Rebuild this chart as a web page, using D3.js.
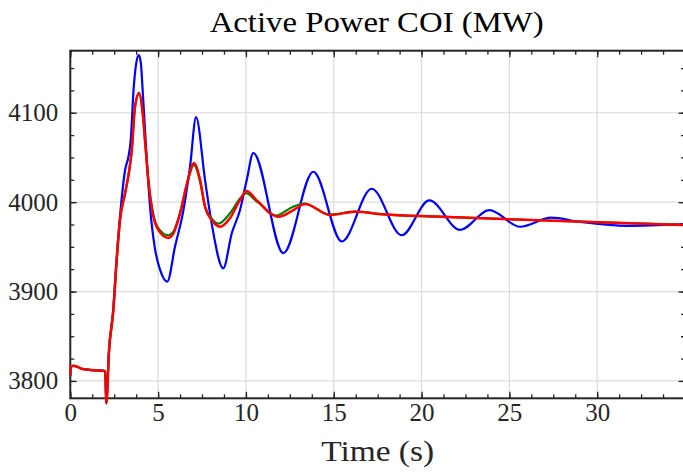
<!DOCTYPE html>
<html><head><meta charset="utf-8">
<script src="https://cdn.jsdelivr.net/npm/d3@7"></script>
<style>body{margin:0;background:#fff}svg{display:block}</style>
</head><body>
<svg id="c" width="683" height="472"></svg>
<script>
// ---- data ----
const xTicks = [0, 5, 10, 15, 20, 25, 30];
const yTicks = [3800, 3900, 4000, 4100];
const titleText = "Active Power COI (MW)";
const xLabelText = "Time (s)";

const blueT = [0,0.03,0.2,0.67,1.24,1.99,2.05,2.2,2.45,2.6,2.83,3.12,3.3,3.44,3.6,3.75,3.9,4.02,4.12,4.29,4.54,4.82,5.1,5.52,5.96,6.44,6.82,7.16,7.67,8.05,8.71,9.19,9.66,10.05,10.42,12.13,13.84,15.46,17.16,18.87,20.44,22.19,23.86,25.61,27.37,29.02,31.69,35];
const blueV = [3806,3816,3817,3813.5,3812.2,3811,3775,3834,3881,3926,3984,4036,4050,4069,4125,4155,4164.5,4155,4125,4069,3995,3948,3925,3911,3950,3991,4040,4095,4025,3976,3926,3965,3991,4025,4055,3943,4034,3956,4015,3963,4002,3969,3991,3972.5,3982.6,3978,3973.5,3975.5];

const redT = [0,0.03,0.2,0.67,1.24,1.99,2.05,2.2,2.45,2.64,2.83,3.12,3.36,3.5,3.68,3.91,4.12,4.25,4.44,4.73,5.01,5.58,5.87,6.25,6.63,7.04,7.39,7.67,8.05,8.52,9.09,9.66,10.04,10.6,10.8,11.37,11.85,12.7,13.37,14.79,16.22,17.82,21.05,27.5,35];
const redV = [3806,3816,3817,3813.5,3812.2,3811,3775,3832,3879,3935,3980,4010,4036,4058,4106,4122,4100,4070,4025,3984,3969,3960,3965,3987.5,4020,4043.4,4024.7,3995,3980,3972.5,3982,4002.3,4012.4,4002.3,3998.7,3987.5,3983.7,3991,3997.9,3985.6,3989.3,3986.4,3983.7,3979.2,3974.4];

const greenT = [0,0.03,0.2,0.67,1.24,1.99,2.05,2.2,2.45,2.64,2.83,3.12,3.36,3.5,3.68,3.91,4.12,4.25,4.44,4.73,5.01,5.58,5.87,6.25,6.63,7.04,7.39,7.67,8.0,8.43,9.09,9.66,10.0,10.6,10.8,11.3,11.7,12.6,13.3,14.79,16.22,17.82,21.05,27.5,35];
const greenV = [3806,3816,3817,3813.5,3812.2,3811,3775,3832,3879,3935,3980,4010,4036,4058,4106,4121,4100,4070,4025,3986,3971,3963,3967,3988,4019,4041.5,4023,3995,3983,3976,3987.5,4004,4010,4001,3998,3989,3985,3994,3998.5,3986,3989.3,3986.4,3983.7,3979.2,3974.4];

// ---- layout ----
const L = 70.3, R = 685, T = 50.7, B = 398.3;
const x = d3.scaleLinear().domain([0, 35]).range([L, R]);
const y = d3.scaleLinear().domain([3780.6, 4169.4]).range([B, T]);
const svg = d3.select("#c");
const font = "'Liberation Serif', 'Times New Roman', serif";
const axisColor = "#262626";

const xMinor = d3.range(0, 35.001, 1.25);
const yMinor = d3.range(3800, 4169, 25);

// grid
const grid = svg.append("g");
grid.selectAll("line.gx").data(xTicks).join("line")
  .attr("x1", d => x(d)).attr("x2", d => x(d)).attr("y1", T).attr("y2", B)
  .attr("stroke", "#dbdbdb").attr("stroke-width", 1.2);
grid.selectAll("line.gy").data(yTicks).join("line")
  .attr("y1", d => y(d)).attr("y2", d => y(d)).attr("x1", L).attr("x2", R)
  .attr("stroke", "#dbdbdb").attr("stroke-width", 1.2);

// axes with inward ticks
function styleAxis(g) {
  g.select(".domain").remove();
  g.selectAll("line").attr("stroke", axisColor).attr("stroke-width", 1.3);
  g.selectAll("text").attr("fill", axisColor).style("font-family", font).style("font-size", "25px");
}
function addAxis(axisFn, pos, vals, size, labels, pad) {
  const a = axisFn.tickValues(vals).tickSize(size).tickPadding(pad || 3)
    .tickFormat(labels ? d3.format("d") : "");
  const g = svg.append("g").attr("transform", pos).call(a);
  styleAxis(g);
  return g;
}
addAxis(d3.axisBottom(x), `translate(0,${B})`, xTicks, -6.5, true, 5);
addAxis(d3.axisBottom(x), `translate(0,${B})`, xMinor, -4, false);
addAxis(d3.axisTop(x), `translate(0,${T})`, xTicks, -6.5, false);
addAxis(d3.axisTop(x), `translate(0,${T})`, xMinor, -4, false);
addAxis(d3.axisLeft(y), `translate(${L},0)`, yTicks, -6.5, true, 12);
addAxis(d3.axisLeft(y), `translate(${L},0)`, yMinor, -4, false);
addAxis(d3.axisRight(y), `translate(${R},0)`, yTicks, -6.5, false);
addAxis(d3.axisRight(y), `translate(${R},0)`, yMinor, -4, false);

// box
svg.append("rect").attr("x", L).attr("y", T).attr("width", R - L).attr("height", B - T)
  .attr("fill", "none").attr("stroke", axisColor).attr("stroke-width", 2);

// lines
const line = d3.line().x(d => x(d[0])).y(d => y(d[1])).curve(d3.curveMonotoneX);
const series = [
  {t: blueT, v: blueV, color: "#0000ff", w: 2.2},
  {t: greenT, v: greenV, color: "#008000", w: 2.2},
  {t: redT, v: redV, color: "#ff0000", w: 2.5}
];
series.forEach(s => {
  svg.append("path").datum(s.t.map((t, i) => [t, s.v[i]]))
    .attr("d", line).attr("fill", "none").attr("stroke", s.color)
    .attr("stroke-width", s.w).attr("stroke-linejoin", "round");
});

// title and label
svg.append("text").attr("x", (L + R) / 2 - 1).attr("y", 32).attr("text-anchor", "middle")
  .style("font-family", font).style("font-size", "29px").attr("fill", "#000")
  .attr("textLength", 334).attr("lengthAdjust", "spacingAndGlyphs").text(titleText);
svg.append("text").attr("x", (L + R) / 2).attr("y", 461).attr("text-anchor", "middle")
  .style("font-family", font).style("font-size", "30px").attr("fill", axisColor)
  .attr("textLength", 113).attr("lengthAdjust", "spacingAndGlyphs").text(xLabelText);
</script>
</body></html>
